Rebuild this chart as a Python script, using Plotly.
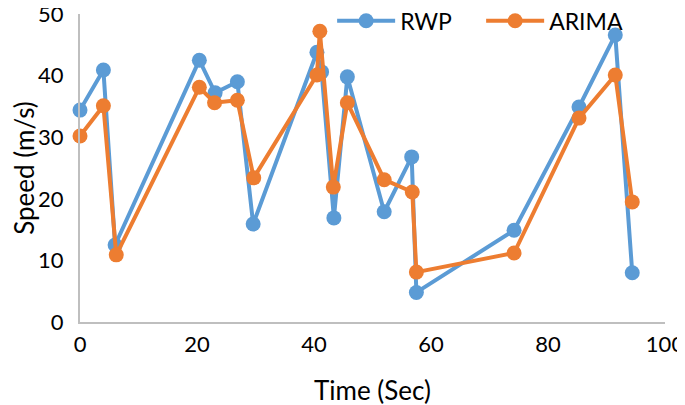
import plotly.graph_objects as go

time_rwp = [0, 4.0, 6.0, 20.4, 23.1, 26.9, 29.6, 40.5, 41.3, 43.4, 45.7, 52.0, 56.7, 57.5, 74.2, 85.3, 91.5, 94.4]
speed_rwp = [34.4, 40.9, 12.5, 42.5, 37.2, 39.0, 15.9, 43.8, 40.6, 16.9, 39.8, 17.9, 26.8, 4.8, 14.9, 34.9, 46.6, 8.0]

time_arima = [0, 4.0, 6.2, 20.4, 23.0, 26.9, 29.7, 40.5, 41.0, 43.3, 45.7, 52.0, 56.8, 57.5, 74.2, 85.3, 91.5, 94.4]
speed_arima = [30.2, 35.1, 10.9, 38.1, 35.6, 36.0, 23.4, 40.1, 47.2, 21.9, 35.6, 23.1, 21.1, 8.1, 11.2, 33.1, 40.1, 19.5]

x_ticks = [0, 20, 40, 60, 80, 100]
y_ticks = [0, 10, 20, 30, 40, 50]

BLUE = "#5B9BD5"
ORANGE = "#ED7D31"
FONT = "Lato"

fig = go.Figure()
fig.add_trace(go.Scatter(
    x=time_rwp, y=speed_rwp, name="RWP", mode="lines+markers",
    line=dict(color=BLUE, width=4), marker=dict(color=BLUE, size=15),
    cliponaxis=False,
))
fig.add_trace(go.Scatter(
    x=time_arima, y=speed_arima, name="ARIMA", mode="lines+markers",
    line=dict(color=ORANGE, width=4), marker=dict(color=ORANGE, size=15),
    cliponaxis=False,
))

fig.update_layout(
    width=685, height=405,
    margin=dict(l=72, r=28, t=6, b=91, autoexpand=False),
    paper_bgcolor="white", plot_bgcolor="white",
    font=dict(family=FONT, size=22, color="#000000"),
    showlegend=True,
    legend=dict(orientation="h", x=0.431, xanchor="left", y=0.978, yanchor="middle",
                font=dict(family=FONT, size=23, color="#000000"),
                itemwidth=58, entrywidth=76, bgcolor="rgba(0,0,0,0)"),
    xaxis=dict(range=[0, 100], tickvals=x_ticks, ticktext=[str(v) for v in x_ticks],
               showgrid=False, zeroline=False, showline=True, linecolor="#BFBFBF", linewidth=2,
               ticks="", ticklabelstandoff=2, automargin=False, ticklabeloverflow="allow",
               title=dict(text="Time (Sec)", font=dict(family=FONT, size=26), standoff=25)),
    yaxis=dict(range=[0, 50], tickvals=y_ticks, ticktext=[str(v) for v in y_ticks],
               showgrid=False, zeroline=False, showline=True, linecolor="#BFBFBF", linewidth=2,
               ticks="", ticklabelstandoff=10, automargin=False, ticklabeloverflow="allow",
               title=dict(text="Speed (m/s)", font=dict(family=FONT, size=26), standoff=28)),
)

fig.write_html("out.html")
